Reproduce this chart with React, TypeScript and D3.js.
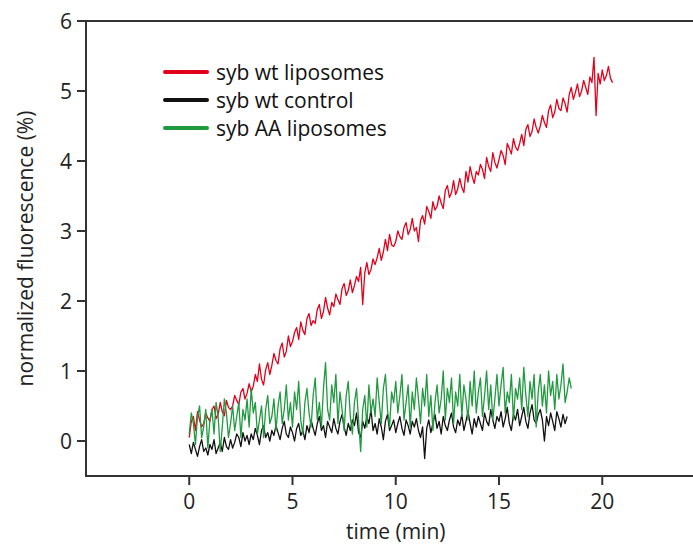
import React from "react";
import * as d3 from "d3";

const WIDTH = 693;
const HEIGHT = 546;

const timeStep = 0.1; // minutes between samples
const xTicks = [0, 5, 10, 15, 20];
const yTicks = [0, 1, 2, 3, 4, 5, 6];

const seriesNames = ["syb wt liposomes", "syb wt control", "syb AA liposomes"];
const seriesColors = ["#e3001b", "#111111", "#1f9a3e"];

const sybWtLiposomes = [
  0.05, 0.28, 0.35, 0.15, 0.42, 0.30, 0.20, 0.25, 0.40, 0.33,
  0.28, 0.45, 0.50, 0.32, 0.38, 0.55, 0.42, 0.36, 0.58, 0.48,
  0.45, 0.50, 0.65, 0.58, 0.52, 0.70, 0.75, 0.60, 0.68, 0.82,
  0.70, 0.78, 0.95, 0.85, 1.10, 0.88, 0.80, 1.02, 1.12, 0.95,
  1.08, 1.25, 1.15, 1.10, 1.32, 1.40, 1.20, 1.28, 1.50, 1.35,
  1.42, 1.55, 1.62, 1.45, 1.70, 1.58, 1.52, 1.75, 1.82, 1.65,
  1.72, 1.68, 1.88, 1.95, 1.75, 1.85, 2.05, 1.90, 1.80, 1.98,
  1.92, 2.10, 2.02, 1.95, 2.18, 2.25, 2.08, 2.15, 2.30, 2.12,
  2.22, 2.35, 2.28, 2.48, 1.95, 2.40, 2.55, 2.38, 2.45, 2.60,
  2.52, 2.62, 2.75, 2.58, 2.70, 2.88, 2.72, 2.95, 2.80, 2.78,
  2.85, 3.00, 2.92, 2.88, 3.05, 3.12, 2.95, 3.02, 3.18, 3.00,
  3.05, 2.85, 3.15, 3.22, 3.10, 3.35, 3.28, 3.18, 3.42, 3.30,
  3.35, 3.50, 3.40, 3.32, 3.58, 3.65, 3.48, 3.55, 3.72, 3.52,
  3.60, 3.75, 3.62, 3.55, 3.85, 3.70, 3.92, 3.78, 3.68, 3.85,
  3.80, 3.95, 3.88, 3.75, 4.05, 3.92, 3.85, 4.12, 3.98, 3.90,
  4.02, 4.15, 4.08, 3.95, 4.25, 4.18, 4.10, 4.32, 4.20, 4.15,
  4.25, 4.38, 4.22, 4.45, 4.52, 4.35, 4.42, 4.60, 4.48, 4.40,
  4.50, 4.65, 4.55, 4.48, 4.72, 4.80, 4.62, 4.70, 4.88, 4.75,
  4.72, 4.90, 4.82, 4.70, 4.95, 5.05, 4.88, 4.98, 5.10, 4.92,
  5.00, 5.15, 5.05, 4.95, 5.20, 5.12, 5.48, 4.65, 5.25, 5.10,
  5.30, 5.15, 5.22, 5.35, 5.18, 5.12,
];

const sybWtControl = [
  -0.05, -0.18, -0.02, -0.12, -0.22, -0.08, 0.02, -0.15, -0.10, -0.20,
  -0.05, -0.12, 0.02, -0.18, -0.10, -0.02, -0.15, 0.05, -0.08, -0.12,
  0.02, -0.10, -0.02, 0.10, 0.05, -0.08, 0.12, 0.00, 0.08, -0.05,
  0.10, 0.02, 0.18, 0.08, -0.05, 0.15, 0.22, 0.05, 0.12, 0.00,
  0.15, 0.08, 0.22, 0.12, 0.02, 0.18, 0.28, 0.10, 0.05, 0.20,
  0.12, 0.00, 0.18, 0.25, 0.08, 0.15, 0.02, 0.22, 0.12, 0.30,
  0.18, 0.08, 0.25, 0.35, 0.15, 0.22, 0.05, 0.28, 0.20, 0.12,
  0.32, 0.18, 0.10, 0.28, 0.38, 0.20, 0.08, 0.25, 0.15, 0.30,
  0.22, 0.40, 0.12, 0.05, 0.28, 0.18, 0.35, 0.25, 0.45, 0.15,
  0.25, 0.10, 0.32, 0.20, 0.02, 0.28, 0.38, 0.15, 0.22, 0.30,
  0.12, 0.25, 0.35, 0.18, 0.08, 0.30, 0.22, 0.10, 0.28, 0.20,
  0.32, 0.15, 0.05, 0.20, -0.25, 0.18, 0.30, 0.12, 0.25, 0.38,
  0.18, 0.28, 0.10, 0.35, 0.22, 0.15, 0.30, 0.40, 0.20, 0.12,
  0.30, 0.22, 0.38, 0.15, 0.28, 0.42, 0.25, 0.10, 0.32, 0.20,
  0.35, 0.25, 0.15, 0.40, 0.28, 0.22, 0.45, 0.30, 0.18, 0.35,
  0.28, 0.42, 0.20, 0.32, 0.48, 0.25, 0.15, 0.38, 0.30, 0.45,
  0.22, 0.35, 0.48, 0.28, 0.18, 0.40, 0.52, 0.30, 0.25, 0.38,
  0.45, 0.30, 0.00, 0.35, 0.22, 0.40, 0.28, 0.15, 0.42, 0.32,
  0.20, 0.38, 0.25, 0.35,
];

const sybAALiposomes = [
  0.10, 0.40, 0.25, -0.05, 0.35, 0.50, 0.05, 0.20, 0.45, -0.10,
  0.30, 0.45, 0.10, 0.55, 0.35, -0.15, 0.20, 0.60, 0.40, 0.05,
  0.25, 0.50, 0.15, 0.35, 0.55, 0.05, 0.45, 0.30, 0.60, 0.20,
  0.75, 0.40, 0.55, 0.10, 0.30, 0.50, 0.05, 0.45, 0.65, 0.25,
  0.35, 0.60, 0.15, 0.50, 0.70, 0.25, 0.45, 0.80, 0.30, 0.55,
  0.20, 0.70, 0.45, 0.85, 0.30, 0.10, 0.55, 0.75, 0.40, 0.20,
  0.65, 0.90, 0.30, 0.55, 0.20, 0.75, 1.12, 0.45, 0.30, 0.80,
  0.55, 0.95, 0.25, 0.70, 0.45, 0.15, 0.65, 0.85, 0.35, 0.10,
  0.55, 0.75, 0.30, -0.15, 0.45, 0.65, 0.20, 0.80, 0.40, 0.60,
  0.35, 0.90, 0.55, 0.25, 0.75, 0.95, 0.45, 0.20, 0.70, 0.55,
  0.85, 0.40, 0.65, 0.95, 0.30, 0.55, 0.80, 0.20, 0.70, 0.45,
  0.90, 0.60, 0.25, 0.75, 0.50, 0.95, 0.35, 0.65, 0.15, 0.55,
  0.80, 0.40, 0.60, 1.00, 0.30, 0.75, 0.55, 0.90, 0.25, 0.70,
  0.50, 0.95, 0.35, 0.80, 0.60, 0.30, 0.85, 0.50, 1.00, 0.40,
  0.70, 0.90, 0.35, 0.65, 1.00, 0.45, 0.80, 0.30, 0.60, 0.95,
  0.50, 0.80, 1.05, 0.40, 0.70, 0.55, 0.95, 0.30, 0.75, 0.60,
  0.90, 0.45, 1.05, 0.65, 0.35, 0.85, 0.60, 0.95, 0.20, 0.70,
  0.95, 0.50, 0.80, 0.40, 1.00, 0.65, 0.85, 0.45, 0.95, 0.60,
  0.80, 1.10, 0.55, 0.70, 0.90, 0.75,
];

const seriesValues = [sybWtLiposomes, sybWtControl, sybAALiposomes];

const FONT = "'Open Sans', sans-serif";

export default function App() {
  const left = 86;
  const top = 21;
  const bottom = 476;
  const x = d3.scaleLinear().domain([-5, 25]).range([left, left + 30 * 20.65]);
  const y = d3.scaleLinear().domain([-0.5, 6]).range([bottom, top]);

  const line = d3
    .line<number>()
    .x((_, i) => x(i * timeStep))
    .y((d) => y(d));

  const axisColor = "#333";
  const legendY = [72, 100, 128];

  return (
    <svg
      width={WIDTH}
      height={HEIGHT}
      style={{ position: "absolute", left: 0, top: 0, background: "#fff" }}
      fontFamily={FONT}
    >
      {seriesValues.map((vals, i) => (
        <path
          key={i}
          d={line(vals) || ""}
          fill="none"
          stroke={seriesColors[i]}
          strokeWidth={1.3}
          strokeLinejoin="round"
        />
      ))}

      {/* frame */}
      <line x1={left} x2={WIDTH} y1={top} y2={top} stroke={axisColor} strokeWidth={2} />
      <line x1={left} x2={left} y1={top - 1} y2={bottom + 1} stroke={axisColor} strokeWidth={2} />
      <line x1={left - 1} x2={WIDTH} y1={bottom} y2={bottom} stroke={axisColor} strokeWidth={2} />

      {yTicks.map((t) => (
        <g key={"y" + t}>
          <line x1={left - 9} x2={left} y1={y(t)} y2={y(t)} stroke={axisColor} strokeWidth={2} />
          <text
            x={left - 14}
            y={y(t)}
            textAnchor="end"
            dominantBaseline="central"
            fontSize={21}
            fill="#222"
          >
            {t}
          </text>
        </g>
      ))}

      {xTicks.map((t) => (
        <g key={"x" + t}>
          <line x1={x(t)} x2={x(t)} y1={bottom} y2={bottom + 9} stroke={axisColor} strokeWidth={2} />
          <text x={x(t)} y={bottom + 33} textAnchor="middle" fontSize={21} fill="#222">
            {t}
          </text>
        </g>
      ))}

      <text x={x(10)} y={539} textAnchor="middle" fontSize={21} fill="#222">
        time (min)
      </text>
      <text
        transform={`translate(25, ${(top + bottom) / 2}) rotate(-90)`}
        textAnchor="middle"
        dominantBaseline="central"
        fontSize={21}
        fill="#222"
      >
        normalized fluorescence (%)
      </text>

      {seriesNames.map((name, i) => (
        <g key={name}>
          <line
            x1={165}
            x2={207}
            y1={legendY[i]}
            y2={legendY[i]}
            stroke={seriesColors[i]}
            strokeWidth={4}
            strokeLinecap="round"
          />
          <text x={216} y={legendY[i]} dominantBaseline="central" fontSize={21} fill="#111">
            {name}
          </text>
        </g>
      ))}
    </svg>
  );
}
